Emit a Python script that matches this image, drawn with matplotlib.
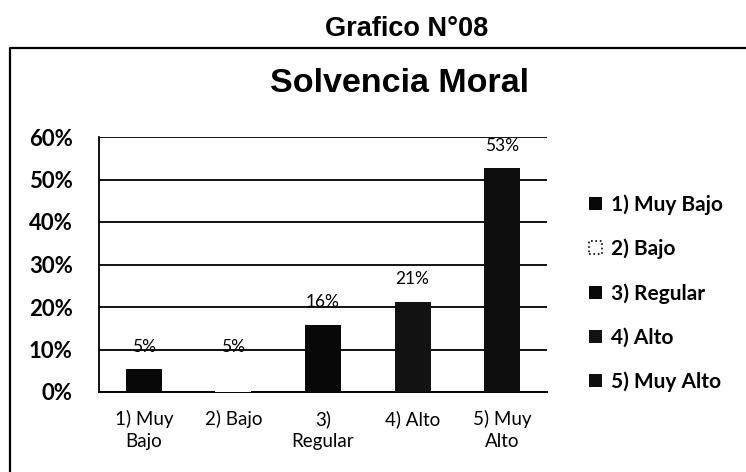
import matplotlib
matplotlib.use("Agg")
import matplotlib.pyplot as plt
from matplotlib.lines import Line2D
from matplotlib.ticker import PercentFormatter

# data
categorias = ["1) Muy\nBajo", "2) Bajo", "3)\nRegular", "4) Alto", "5) Muy\nAlto"]
leyenda = ["1) Muy Bajo", "2) Bajo", "3) Regular", "4) Alto", "5) Muy Alto"]
valores = [0.053, 0.053, 0.158, 0.211, 0.526]
colores = ["#080808", "#ffffff", "#080808", "#121212", "#0e0e0e"]
yticks = [0, 0.1, 0.2, 0.3, 0.4, 0.5, 0.6]

W, H = 746, 472
fig = plt.figure(figsize=(W / 100, H / 100), dpi=100)
fig.patch.set_facecolor("white")

def fx(px):
    return px / W

def fy(py):
    return 1 - py / H

# outer frame (only left and top are visible)
fig.add_artist(Line2D([fx(10), fx(10), fx(746)], [fy(472), fy(48), fy(48)],
                      color="black", lw=1.6, transform=fig.transFigure))

fig.text(fx(407), fy(29), "Grafico N°08", ha="center", va="center",
         fontsize=19.5, fontweight="bold", family="Liberation Sans")
fig.text(fx(400), fy(84), "Solvencia Moral", ha="center", va="center",
         fontsize=24.5, fontweight="bold", family="Liberation Sans")

ax = fig.add_axes([fx(99), fy(392), fx(547) - fx(99), fy(137) - fy(392)])
x = range(len(categorias))
bars = ax.bar(x, valores, width=0.4, color=colores, zorder=3)
for b, lab in zip(bars, leyenda):
    b.set_label(lab)

for xi, v in zip(x, valores):
    ax.annotate(f"{round(v * 100)}%", (xi, v), xytext=(0, 16.5),
                textcoords="offset points", ha="center", va="center",
                fontsize=12.5, family="Lato", zorder=4)

ax.set_xlim(-0.5, 4.5)
ax.set_ylim(0, 0.6)
ax.set_yticks(yticks)
ax.yaxis.set_major_formatter(PercentFormatter(1.0, decimals=0))
ax.set_xticks(list(x))
ax.set_xticklabels(categorias, fontsize=13.5, family="Lato", linespacing=1.35)
for t in ax.get_yticklabels():
    t.set_fontweight("bold")
    t.set_family("Lato")
    t.set_fontsize(16)
ax.tick_params(axis="y", length=0, pad=19)
ax.tick_params(axis="x", length=0, pad=13)
ax.grid(axis="y", color="black", lw=1.3, zorder=1)
for s in ["top", "right"]:
    ax.spines[s].set_visible(False)
ax.spines["left"].set_linewidth(1.3)
ax.spines["bottom"].set_linewidth(1.4)

leg = ax.legend(handles=list(bars), loc="center left",
                bbox_to_anchor=(fx(589), fy(293)), bbox_transform=fig.transFigure,
                frameon=False, borderpad=0, borderaxespad=0,
                handlelength=0.6, handleheight=0.6, handletextpad=0.45,
                labelspacing=1.15, prop={"family": "Lato", "weight": "bold", "size": 15})
h2 = leg.legend_handles[1]
h2.set_edgecolor("black")
h2.set_linestyle(":")
h2.set_linewidth(1.2)

fig.savefig("out.png", dpi=100)
